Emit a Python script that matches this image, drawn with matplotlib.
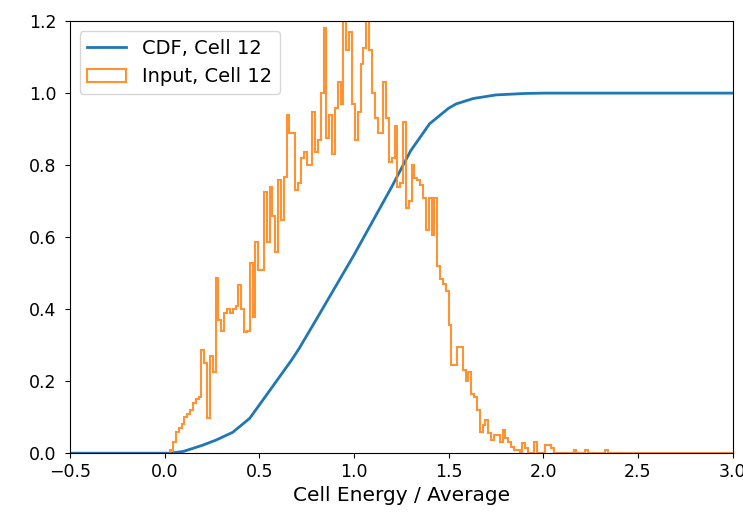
import numpy as np
import matplotlib
matplotlib.use("Agg")
import matplotlib.pyplot as plt

# CDF curve
cdf_x = [-0.5, 0.03, 0.1, 0.2, 0.27, 0.36, 0.45, 0.55, 0.67, 0.71, 0.8, 0.9,
         1.0, 1.1, 1.2, 1.3, 1.4, 1.5, 1.54, 1.63, 1.75, 1.9, 2.0, 3.0]
cdf_y = [0.0, 0.0, 0.005, 0.022, 0.036, 0.058, 0.097, 0.17, 0.258, 0.29, 0.37, 0.46,
         0.55, 0.645, 0.74, 0.84, 0.915, 0.958, 0.97, 0.985, 0.995, 0.999, 1.0, 1.0]

# input histogram, bins of 0.015 starting at 0.03
bin_start = 0.03
bin_width = 0.015
hist_vals = [
    0.01, 0.03, 0.06, 0.07, 0.08, 0.10, 0.11, 0.12, 0.14, 0.15, 0.155,
    0.286, 0.25, 0.097, 0.27, 0.225, 0.486, 0.37, 0.34, 0.39, 0.40,
    0.39, 0.40, 0.41, 0.467, 0.40, 0.336, 0.34, 0.528, 0.378, 0.586,
    0.508, 0.51, 0.725, 0.586, 0.74, 0.66, 0.558, 0.76, 0.647, 0.767,
    0.94, 0.89, 0.89, 0.73, 0.75, 0.82, 0.836, 0.80, 0.80, 0.947,
    0.836, 0.87, 1.0, 1.18, 0.875, 0.94, 0.83, 0.96, 1.03, 0.97,
    1.25, 1.12, 1.17, 0.97, 0.87, 0.947, 1.08, 1.125, 1.25, 1.12,
    1.0, 0.93, 0.89, 0.89, 1.03, 0.93, 0.81, 0.82, 0.91, 0.74,
    0.75, 0.92, 0.68, 0.70, 0.80, 0.765, 0.76, 0.745, 0.71, 0.62,
    0.71, 0.605, 0.71, 0.52, 0.485, 0.47, 0.45, 0.356, 0.245, 0.245,
    0.295, 0.295, 0.23, 0.20, 0.225, 0.165, 0.155, 0.12, 0.058, 0.078,
    0.092, 0.056, 0.036, 0.05, 0.05, 0.03, 0.064, 0.042, 0.03, 0.017,
    0.008, 0.008, 0.0, 0.028, 0.014, 0.0, 0.0, 0.03, 0.0, 0.0,
    0.0, 0.022, 0.022, 0.015, 0.0, 0.0, 0.0, 0.0, 0.0, 0.0,
    0.0, 0.008, 0.0, 0.0, 0.0, 0.008, 0.0, 0.0, 0.0, 0.0,
    0.0, 0.0, 0.008, 0.0,
] + [0.0] * 44

edges = bin_start + bin_width * np.arange(len(hist_vals) + 1)

plt.rcParams['font.size'] = 12

fig = plt.figure(figsize=(7.43, 5.15), dpi=100)
ax = fig.add_axes([0.094, 0.120, 0.892, 0.839])

ax.plot(cdf_x, cdf_y, color='C0', lw=2, label='CDF, Cell 12')
ax.hist(edges[:-1], bins=edges, weights=hist_vals, histtype='step',
        color='C1', lw=1.5, alpha=0.85, label='Input, Cell 12')

ax.set_xlim(-0.5, 3.0)
ax.set_ylim(0, 1.2)
ax.tick_params(labelsize=12.5)
ax.tick_params(axis='y', pad=6)
ax.set_xlabel('Cell Energy / Average', fontsize=14.5)
ax.legend(loc='upper left', fontsize=14)

fig.savefig('out.png', dpi=100)
